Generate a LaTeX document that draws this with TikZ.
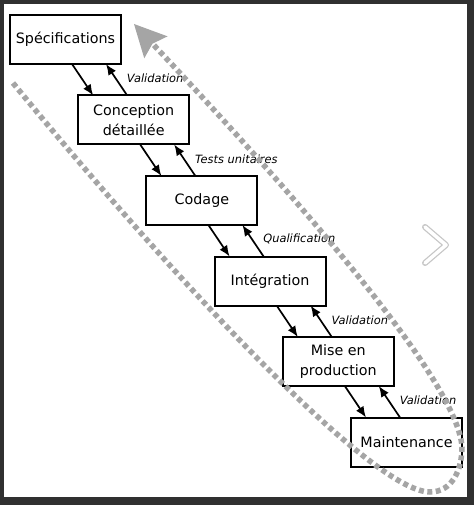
\documentclass[tikz,border=0pt]{standalone}
\usepackage{fontspec}
\setmainfont{DejaVu Sans}
\usetikzlibrary{positioning,arrows.meta}
\definecolor{loopgray}{RGB}{165,165,165}
\definecolor{backdrop}{RGB}{48,48,48}

\begin{document}
\begin{tikzpicture}[x=1pt, y=-1pt,
	main/.style={rectangle, draw=black, line width=2pt, minimum width=111pt, minimum height=49pt, inner sep=0pt, outer sep=0pt, align=center, font=\fontsize{14.3}{20}\selectfont},
	lbl/.style={inner sep=0pt, anchor=west, xshift=9.5pt, yshift=1.5pt, font=\fontsize{11.4}{13}\selectfont\itshape},
	arr/.style={-{Latex[length=11pt, width=9pt]}, line width=1.7pt},
	loop/.style={draw=loopgray, line width=5.5pt, dash pattern=on 5pt off 3.5pt}
	]
	\fill[backdrop] (0,0) rectangle (474,505);
	\fill[white] (4,4) rectangle (467,497);
	\useasboundingbox (0,0) rectangle (474,505);

		\node (spec) [main] at (65.5,39.5) {Spécifications};
		\node (conception) [main, below=31.5pt of spec, xshift=68.2pt] {Conception\\détaillée};
		\node (codage) [main, below=31.5pt of conception, xshift=68.2pt] {Codage};
		\node (integration) [main, below=31.5pt of codage, xshift=68.2pt] {Intégration};
		\node (production) [main, below=31.5pt of integration, xshift=68.2pt] {Mise en\\production};
		\node (maintenance) [main, below=31.5pt of production, xshift=68.2pt] {Maintenance};

	\draw [arr] ([xshift=6.5pt]spec.south)--([xshift=-40.5pt]conception.north);
	\draw [arr] ([xshift=-6.5pt]conception.north)--([xshift=40.5pt]spec.south) node [lbl, midway] {Validation};

	\draw [arr] ([xshift=6.5pt]conception.south)--([xshift=-40.5pt]codage.north);
	\draw [arr] ([xshift=-6.5pt]codage.north)--([xshift=40.5pt]conception.south) node [lbl, midway] {Tests unitaires};

	\draw [arr] ([xshift=6.5pt]codage.south)--([xshift=-40.5pt]integration.north);
	\draw [arr] ([xshift=-6.5pt]integration.north)--([xshift=40.5pt]codage.south) node [lbl, midway] {Qualification};

	\draw [arr] ([xshift=6.5pt]integration.south)--([xshift=-40.5pt]production.north);
	\draw [arr] ([xshift=-6.5pt]production.north)--([xshift=40.5pt]integration.south) node [lbl, midway] {Validation};

	\draw [arr] ([xshift=6.5pt]production.south)--([xshift=-40.5pt]maintenance.north);
	\draw [arr] ([xshift=-6.5pt]maintenance.north)--([xshift=40.5pt]production.south) node [lbl, midway] {Validation};

	% dotted loop back to the top
	\draw [loop, -{Stealth[length=32pt, width=32pt, inset=5pt, line width=0pt, fill=loopgray]}]
		(13,83) .. controls (163,266) and (370,492) .. (430,492)
		.. controls (452,492) and (462,470) .. (462,447)
		.. controls (458,380) and (290,190) .. (134,24);

	% next arrow
	\draw [line width=6pt, gray!45, line cap=round, line join=round] (425,227)--(446,245)--(425,263);
	\draw [line width=3.5pt, white, line cap=round, line join=round] (425,227)--(446,245)--(425,263);

\end{tikzpicture}
\end{document}
